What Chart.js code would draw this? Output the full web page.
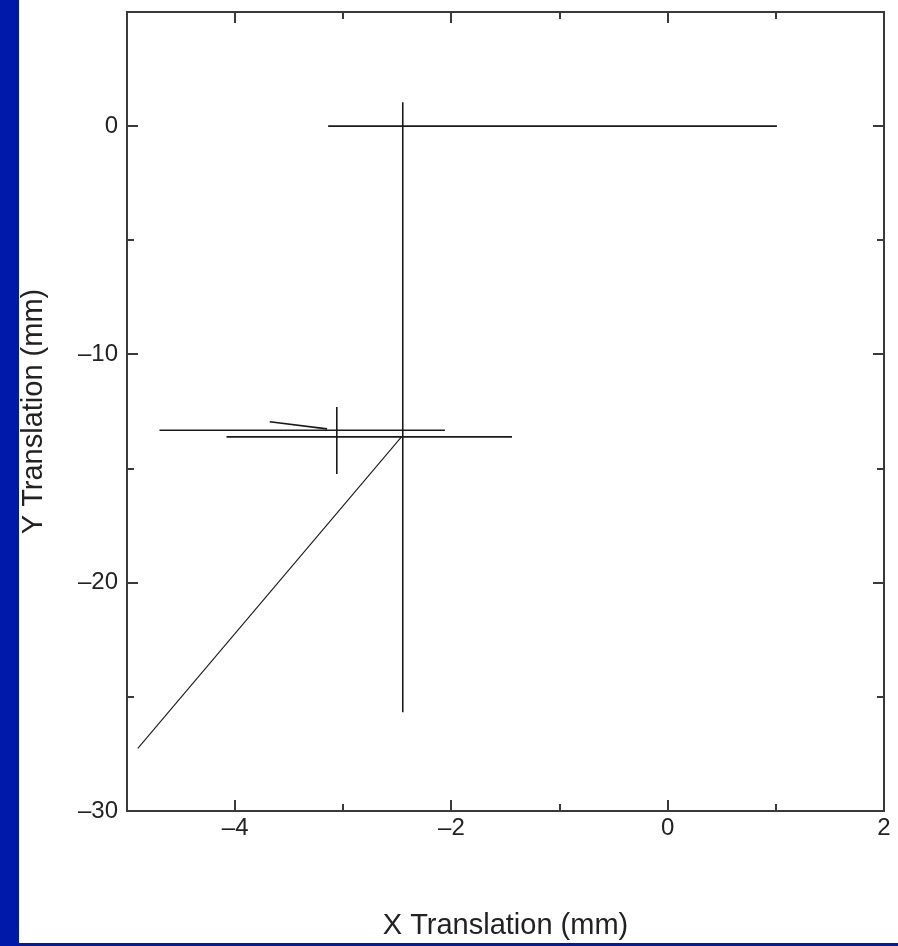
<!DOCTYPE html>
<html>
<head>
<meta charset="utf-8">
<script src="https://cdn.jsdelivr.net/npm/chart.js@4/dist/chart.umd.min.js"></script>
<style>
  html, body { margin: 0; padding: 0; background: #0019a8; width: 898px; height: 946px; overflow: hidden; }
  #wrap { position: absolute; left: 19px; top: 0; width: 879px; height: 943px; background: #ffffff; }
  canvas { display: block; }
</style>
</head>
<body>
<div id="wrap"><canvas id="c" width="879" height="943"></canvas></div>
<script>
// ---- data (mm) ----
const xAxisTitle = "X Translation (mm)";
const yAxisTitle = "Y Translation (mm)";
const xTickLabels = [-4, -2, 0, 2];
const yTickLabels = [0, -10, -20, -30];

// horizontal line at top
const topH_x = [-3.14, 1.01];
const topH_y = [0, 0];
// long vertical line
const longV_x = [-2.45, -2.45];
const longV_y = [1.05, -25.67];
// upper horizontal line near -13.3
const midH1_x = [-4.70, -2.06];
const midH1_y = [-13.32, -13.32];
// lower horizontal line near -13.6
const midH2_x = [-4.08, -1.44];
const midH2_y = [-13.61, -13.61];
// short vertical line
const shortV_x = [-3.06, -3.06];
const shortV_y = [-12.30, -15.24];
// small sloped segment
const smallS_x = [-3.68, -3.15];
const smallS_y = [-12.95, -13.26];
// long diagonal
const diag_x = [-4.90, -2.46];
const diag_y = [-27.26, -13.60];

function pts(xs, ys) { return xs.map((x, i) => ({ x: x, y: ys[i] })); }

function ds(xs, ys, w) {
  return {
    data: pts(xs, ys),
    showLine: true,
    borderColor: '#1a1a1a',
    borderWidth: w,
    pointRadius: 0,
    pointHoverRadius: 0,
    fill: false,
    tension: 0
  };
}

const insideTicks = {
  id: 'insideTicks',
  afterDraw(chart) {
    const { ctx, chartArea: a, scales } = chart;
    ctx.save();
    ctx.strokeStyle = '#3a3a3a';
    ctx.lineWidth = 2;
    const xs = scales.x, ys = scales.y;
    xs.ticks.forEach(t => {
      const px = Math.round(xs.getPixelForValue(t.value));
      if (px <= a.left + 1 || px >= a.right - 1) return;
      const len = (Math.abs(t.value) % 2 === 0) ? 11 : 7;
      ctx.beginPath();
      ctx.moveTo(px, a.bottom); ctx.lineTo(px, a.bottom - len);
      ctx.moveTo(px, a.top); ctx.lineTo(px, a.top + len);
      ctx.stroke();
    });
    ys.ticks.forEach(t => {
      const py = Math.round(ys.getPixelForValue(t.value));
      if (py <= a.top + 1 || py >= a.bottom - 1) return;
      const len = (Math.abs(t.value) % 10 === 0) ? 11 : 7;
      ctx.beginPath();
      ctx.moveTo(a.left, py); ctx.lineTo(a.left + len, py);
      ctx.moveTo(a.right, py); ctx.lineTo(a.right - len, py);
      ctx.stroke();
    });
    ctx.strokeRect(a.left, a.top, a.right - a.left, a.bottom - a.top);
    ctx.restore();
  }
};

new Chart(document.getElementById('c'), {
  type: 'scatter',
  data: {
    datasets: [
      ds(topH_x, topH_y, 1.6),
      ds(longV_x, longV_y, 1.6),
      ds(midH1_x, midH1_y, 1.6),
      ds(midH2_x, midH2_y, 1.6),
      ds(shortV_x, shortV_y, 1.6),
      ds(smallS_x, smallS_y, 1.6),
      ds(diag_x, diag_y, 1.1)
    ]
  },
  options: {
    responsive: false,
    animation: false,
    layout: { padding: { left: 0, top: 12, right: 14, bottom: 0 } },
    plugins: { legend: { display: false }, tooltip: { enabled: false } },
    scales: {
      x: {
        type: 'linear',
        min: -5, max: 2,
        border: { display: false },
        grid: { display: false, drawTicks: false },
        ticks: {
          stepSize: 1,
          autoSkip: false,
          maxRotation: 0,
          padding: 3,
          color: '#222',
          font: { family: 'Liberation Sans, Arial, sans-serif', size: 24 },
          callback: v => (xTickLabels.includes(v) ? String(v).replace('-', '\u2013') : '')
        },
        title: {
          display: true,
          text: xAxisTitle,
          color: '#222',
          font: { family: 'Liberation Sans, Arial, sans-serif', size: 29, lineHeight: 1 },
          padding: { top: 0, bottom: 3 }
        },
        afterFit: s => { s.height = 132; s.paddingLeft = 0; s.paddingRight = 0; }
      },
      y: {
        type: 'linear',
        min: -30, max: 5,
        border: { display: false },
        grid: { display: false, drawTicks: false },
        ticks: {
          stepSize: 5,
          autoSkip: false,
          padding: 9,
          color: '#222',
          font: { family: 'Liberation Sans, Arial, sans-serif', size: 24 },
          callback: v => (yTickLabels.includes(v) ? String(v).replace('-', '\u2013') : '')
        },
        title: {
          display: true,
          text: yAxisTitle,
          color: '#222',
          font: { family: 'Liberation Sans, Arial, sans-serif', size: 29, lineHeight: 1 },
          padding: { top: 0, bottom: 0 }
        },
        afterFit: s => { s.width = 108; s.paddingTop = 0; s.paddingBottom = 0; }
      }
    }
  },
  plugins: [insideTicks]
});
</script>
</body>
</html>
